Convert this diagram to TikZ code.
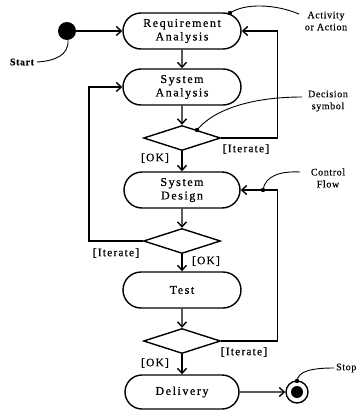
\documentclass[tikz,border=0pt]{standalone}
\usepackage{fontspec}
\setmainfont{Liberation Serif}
\newfontfamily\nodefont[LetterSpace=13,FakeBold=0.6]{Liberation Serif}
\newfontfamily\labfont[LetterSpace=10,FakeBold=0.4]{Liberation Serif}
\newfontfamily\notefont[LetterSpace=6,FakeBold=0.3]{Liberation Serif}
\usetikzlibrary{arrows.meta,shapes.misc,shapes.geometric}
\begin{document}
\begin{tikzpicture}[x=1pt,y=-1pt,
  act/.style={rounded rectangle, draw, line width=1.4pt, minimum height=36pt, inner sep=0pt, align=center, font=\nodefont\fontsize{12}{13.5}\selectfont},
  dec/.style={diamond, draw, line width=1.4pt, inner sep=0pt, minimum width=77pt, minimum height=25pt},
  flow/.style={line width=1.4pt, -{Straight Barb[length=5pt,width=9pt]}},
  guard/.style={font=\labfont\fontsize{11.5}{12}\selectfont, inner sep=0pt},
  note/.style={font=\notefont\fontsize{10}{12}\selectfont, align=center, inner sep=0pt},
  pointer/.style={line width=0.9pt},
  ]
\useasboundingbox (0,0) rectangle (357,412);

% activities
\node[act, minimum width=118pt] (req) at (182,31) {Requirement\\Analysis};
\node[act, minimum width=118pt] (san) at (182,87) {System\\Analysis};
\node[dec] (d1) at (182,138) {};
\node[act, minimum width=116pt] (sde) at (182,190) {System\\Design};
\node[dec] (d2) at (182,241) {};
\node[act, minimum width=118pt] (test) at (182,290) {Test};
\node[dec] (d3) at (182,341) {};
\node[act, minimum width=114pt, minimum height=34pt] (del) at (182,392) {Delivery};

% start / stop
\node[circle, fill, minimum size=18pt, inner sep=0pt] (start) at (67,31) {};
\node[circle, draw, line width=1.4pt, minimum size=22pt, inner sep=0pt] (stop) at (297,392) {};
\node[circle, fill, minimum size=12pt, inner sep=0pt] (stopin) at (stop.center) {};

% flows
\draw[flow] (start) -- (req);
\draw[flow] (req) -- (san);
\draw[flow] (san) -- (d1);
\draw[flow] (d1) -- (sde);
\draw[flow] (sde) -- (d2);
\draw[flow] (d2) -- (test);
\draw[flow] (test) -- (d3);
\draw[flow] (d3) -- (del);
\draw[flow] (del) -- (stop);
\draw[flow] (d1.east) -- ++(56,0) |- (req.east);
\draw[flow] (d2.west) -- ++(-54,0) |- (san.west);
\draw[flow] (d3.east) -- ++(56,0) |- (sde.east);

% guards
\node[guard] (ok1) at (155,158) {[OK]};
\node[guard] (it1) at (246,149) {[Iterate]};
\node[guard] (it2) at (116,253) {[Iterate]};
\node[guard] (ok2) at (206,261) {[OK]};
\node[guard] (it3) at (244,352) {[Iterate]};
\node[guard] (ok3) at (155,363) {[OK]};

% annotations
\node[note] (lact) at (326,21) {Activity\\or Action};
\node[note] (ldec) at (328,101) {Decision\\symbol};
\node[note] (lcf) at (328,178) {Control\\Flow};
\node[note, anchor=west] (lstop) at (336,368) {Stop};
\node[note, font=\notefont\bfseries\fontsize{10}{12}\selectfont] (lstart) at (22,62) {Start};

\coordinate (aS) at (299,14); \coordinate (aE) at (230,13);
\draw[pointer] (aS) .. controls (275,4) and (245,3) .. (aE);
\fill (aE) circle (2.2pt);
\coordinate (dS) at (302,97); \coordinate (dE) at (197,130);
\draw[pointer] (dS) .. controls (255,97) and (215,108) .. (dE);
\fill (dE) circle (2.2pt);
\coordinate (cS) at (300,172); \coordinate (cE) at (263,190);
\draw[pointer] (cS) .. controls (280,171) and (265,176) .. (cE);
\fill (cE) circle (2.2pt);
\coordinate (sS) at (334,368); \coordinate (sE) at (297,381);
\draw[pointer] (sS) .. controls (312,368) and (298,371) .. (sE);
\fill (sE) circle (2.2pt);
\coordinate (tS) at (37,62); \coordinate (tE) at (68,40);
\draw[pointer] (tS) .. controls (55,61) and (69,55) .. (tE);
\end{tikzpicture}
\end{document}
